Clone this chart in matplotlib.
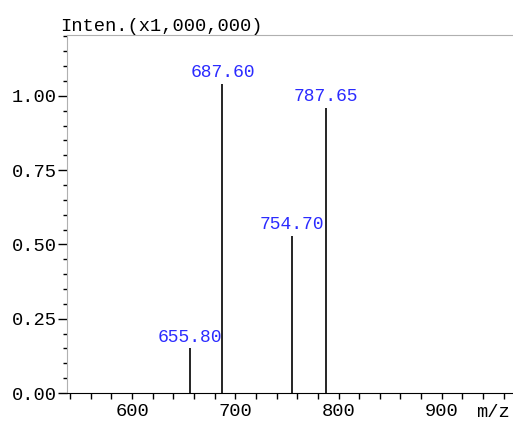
import matplotlib
matplotlib.use("Agg")
import matplotlib.pyplot as plt
from matplotlib.ticker import MultipleLocator, FormatStrFormatter

mz = [655.80, 687.60, 754.70, 787.65]
intensity = [0.15, 1.04, 0.53, 0.96]
labels = ["655.80", "687.60", "754.70", "787.65"]

plt.rcParams['font.family'] = ['Liberation Mono', 'DejaVu Sans Mono']

fig = plt.figure(figsize=(5.13, 4.23), dpi=100)
ax = fig.add_axes([67/513, 30/423, 446/513, 358/423])
ax.set_xlim(537, 969)
ax.set_ylim(0, 1.205)

ax.vlines(mz, 0, intensity, color='black', linewidth=1.2)
for x, y, t in zip(mz, intensity, labels):
    ax.annotate(t, (x, y), xytext=(0, 2), textcoords='offset points',
                ha='center', va='bottom', color='#2b2bff', fontsize=13)

ax.xaxis.set_major_locator(MultipleLocator(100))
ax.xaxis.set_minor_locator(MultipleLocator(20))
ax.yaxis.set_major_locator(MultipleLocator(0.25))
ax.yaxis.set_minor_locator(MultipleLocator(0.05))
ax.yaxis.set_major_formatter(FormatStrFormatter('%.2f'))

ax.tick_params(axis='both', which='both', direction='out', width=1,
               labelsize=13.5, color='black')
ax.tick_params(axis='x', which='both', length=4, pad=3)
ax.tick_params(axis='y', which='major', length=6.5, pad=1)
ax.tick_params(axis='y', which='minor', length=3)

ax.spines['right'].set_visible(False)
ax.spines['top'].set_color('#b0b0b0')
ax.spines['left'].set_color('#b0b0b0')
ax.spines['bottom'].set_color('black')

fig.text(60/513, 1 - 31/423, "Inten.(x1,000,000)", fontsize=13.5, ha='left', va='baseline')
fig.text(510/513, 1 - 417/423, "m/z", fontsize=13.5, ha='right', va='baseline')

fig.savefig("out.png", dpi=100)
